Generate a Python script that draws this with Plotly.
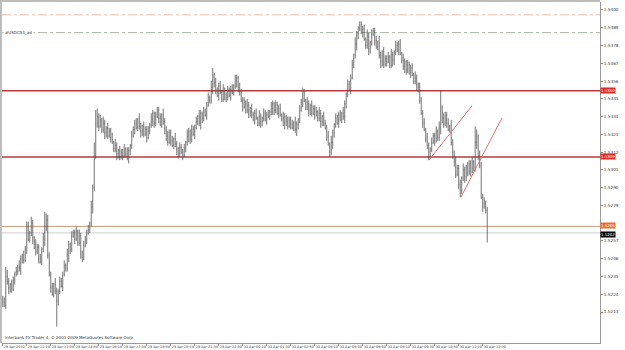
import plotly.graph_objects as go

opens = [1.5221,1.5219,1.5217,1.5235,1.5232,1.5228,1.5230,1.5227,1.5233,1.5236,
1.5238,1.5241,1.5240,1.5246,1.5248,1.5245,1.5252,1.5266,1.5258,1.5262,
1.5268,1.5259,1.5255,1.5250,1.5253,1.5246,1.5244,1.5252,1.5258,1.5266,
1.5270,1.5248,1.5236,1.5228,1.5224,1.5230,1.5226,1.5220,1.5226,1.5232,
1.5229,1.5236,1.5242,1.5240,1.5248,1.5255,1.5252,1.5260,1.5262,1.5258,
1.5263,1.5256,1.5260,1.5250,1.5247,1.5254,1.5258,1.5262,1.5264,1.5268,
1.5278,1.5290,1.5310,1.5330,1.5334,1.5328,1.5332,1.5326,1.5330,1.5324,
1.5327,1.5322,1.5325,1.5321,1.5318,1.5314,1.5316,1.5311,1.5313,1.5309,
1.5312,1.5310,1.5314,1.5311,1.5309,1.5313,1.5316,1.5322,1.5326,1.5330,
1.5327,1.5332,1.5328,1.5325,1.5328,1.5323,1.5326,1.5321,1.5325,1.5329,
1.5332,1.5336,1.5330,1.5334,1.5338,1.5333,1.5329,1.5335,1.5331,1.5327,
1.5322,1.5318,1.5324,1.5319,1.5316,1.5320,1.5317,1.5314,1.5311,1.5315,
1.5312,1.5310,1.5314,1.5318,1.5322,1.5325,1.5320,1.5326,1.5323,1.5327,
1.5331,1.5334,1.5330,1.5336,1.5333,1.5337,1.5335,1.5341,1.5346,1.5344,
1.5352,1.5360,1.5355,1.5350,1.5347,1.5353,1.5349,1.5345,1.5350,1.5348,
1.5346,1.5350,1.5347,1.5351,1.5349,1.5353,1.5356,1.5358,1.5352,1.5349,
1.5344,1.5340,1.5343,1.5338,1.5341,1.5337,1.5339,1.5335,1.5332,1.5336,
1.5333,1.5330,1.5334,1.5331,1.5333,1.5336,1.5332,1.5335,1.5334,1.5337,
1.5339,1.5342,1.5338,1.5341,1.5336,1.5339,1.5335,1.5333,1.5330,1.5334,
1.5331,1.5328,1.5332,1.5329,1.5327,1.5330,1.5326,1.5329,1.5332,1.5338,
1.5343,1.5348,1.5344,1.5340,1.5342,1.5338,1.5341,1.5336,1.5339,1.5335,
1.5337,1.5333,1.5336,1.5331,1.5334,1.5330,1.5327,1.5322,1.5317,1.5312,
1.5318,1.5324,1.5329,1.5333,1.5330,1.5335,1.5332,1.5336,1.5334,1.5342,
1.5348,1.5354,1.5351,1.5358,1.5366,1.5372,1.5379,1.5385,1.5389,1.5391,
1.5386,1.5388,1.5382,1.5378,1.5384,1.5376,1.5380,1.5385,1.5387,1.5381,
1.5377,1.5380,1.5372,1.5368,1.5374,1.5366,1.5370,1.5368,1.5371,1.5366,
1.5372,1.5369,1.5374,1.5378,1.5375,1.5379,1.5373,1.5369,1.5365,1.5368,
1.5363,1.5366,1.5361,1.5364,1.5360,1.5356,1.5358,1.5354,1.5352,1.5344,
1.5336,1.5330,1.5326,1.5320,1.5316,1.5309,1.5314,1.5318,1.5322,1.5319,
1.5325,1.5321,1.5327,1.5340,1.5333,1.5329,1.5335,1.5330,1.5326,1.5328,
1.5318,1.5312,1.5306,1.5298,1.5302,1.5292,1.5288,1.5296,1.5301,1.5297,
1.5303,1.5299,1.5305,1.5300,1.5306,1.5302,1.5318,1.5322,1.5310,1.5304,
1.5284,1.5278,1.5281,1.5276]

highs = [1.5223,1.5222,1.5241,1.5239,1.5234,1.5231,1.5233,1.5235,1.5238,1.5241,
1.5242,1.5245,1.5248,1.5249,1.5251,1.5254,1.5269,1.5269,1.5263,1.5272,
1.5270,1.5260,1.5258,1.5255,1.5255,1.5249,1.5253,1.5262,1.5275,1.5274,
1.5273,1.5250,1.5238,1.5231,1.5231,1.5234,1.5228,1.5227,1.5235,1.5234,
1.5238,1.5245,1.5243,1.5252,1.5257,1.5256,1.5263,1.5264,1.5264,1.5266,
1.5264,1.5264,1.5262,1.5251,1.5257,1.5260,1.5264,1.5267,1.5269,1.5282,
1.5292,1.5318,1.5338,1.5339,1.5336,1.5335,1.5333,1.5334,1.5332,1.5328,
1.5330,1.5327,1.5327,1.5324,1.5319,1.5320,1.5318,1.5314,1.5316,1.5314,
1.5314,1.5317,1.5315,1.5315,1.5315,1.5317,1.5325,1.5328,1.5332,1.5333,
1.5333,1.5336,1.5330,1.5329,1.5331,1.5328,1.5328,1.5328,1.5330,1.5336,
1.5338,1.5337,1.5337,1.5340,1.5340,1.5336,1.5336,1.5339,1.5333,1.5328,
1.5325,1.5326,1.5326,1.5322,1.5321,1.5324,1.5319,1.5315,1.5318,1.5317,
1.5314,1.5317,1.5319,1.5326,1.5327,1.5326,1.5329,1.5328,1.5329,1.5334,
1.5335,1.5338,1.5338,1.5337,1.5340,1.5339,1.5343,1.5349,1.5347,1.5356,
1.5364,1.5361,1.5358,1.5352,1.5355,1.5356,1.5350,1.5354,1.5352,1.5349,
1.5353,1.5352,1.5353,1.5354,1.5354,1.5360,1.5360,1.5359,1.5355,1.5351,
1.5346,1.5346,1.5344,1.5345,1.5343,1.5340,1.5342,1.5337,1.5338,1.5339,
1.5334,1.5338,1.5336,1.5334,1.5339,1.5338,1.5337,1.5338,1.5338,1.5343,
1.5344,1.5343,1.5344,1.5343,1.5341,1.5342,1.5336,1.5337,1.5336,1.5335,
1.5334,1.5334,1.5334,1.5332,1.5331,1.5334,1.5331,1.5333,1.5341,1.5345,
1.5352,1.5351,1.5345,1.5346,1.5344,1.5342,1.5344,1.5341,1.5341,1.5340,
1.5338,1.5340,1.5338,1.5335,1.5337,1.5332,1.5329,1.5325,1.5318,1.5322,
1.5326,1.5330,1.5336,1.5335,1.5337,1.5338,1.5337,1.5340,1.5344,1.5349,
1.5357,1.5356,1.5360,1.5369,1.5373,1.5383,1.5387,1.5390,1.5393,1.5393,
1.5390,1.5391,1.5383,1.5388,1.5386,1.5381,1.5388,1.5389,1.5389,1.5384,
1.5381,1.5384,1.5374,1.5375,1.5377,1.5372,1.5372,1.5374,1.5372,1.5376,
1.5374,1.5375,1.5381,1.5380,1.5381,1.5382,1.5374,1.5373,1.5370,1.5369,
1.5369,1.5368,1.5366,1.5367,1.5361,1.5362,1.5360,1.5355,1.5355,1.5346,
1.5338,1.5333,1.5327,1.5324,1.5318,1.5315,1.5321,1.5324,1.5324,1.5328,
1.5326,1.5331,1.5350,1.5341,1.5336,1.5337,1.5337,1.5333,1.5329,1.5332,
1.5320,1.5313,1.5309,1.5304,1.5304,1.5295,1.5297,1.5305,1.5303,1.5304,
1.5306,1.5307,1.5307,1.5309,1.5307,1.5328,1.5326,1.5323,1.5313,1.5306,
1.5286,1.5284,1.5282,1.5278]

lows = [1.5216,1.5216,1.5215,1.5230,1.5224,1.5225,1.5225,1.5226,1.5230,1.5235,
1.5236,1.5238,1.5236,1.5243,1.5243,1.5244,1.5249,1.5257,1.5256,1.5260,
1.5255,1.5252,1.5248,1.5249,1.5243,1.5243,1.5242,1.5250,1.5254,1.5263,
1.5246,1.5235,1.5225,1.5223,1.5222,1.5224,1.5204,1.5217,1.5224,1.5228,
1.5226,1.5235,1.5238,1.5238,1.5244,1.5249,1.5250,1.5259,1.5255,1.5257,
1.5254,1.5254,1.5246,1.5244,1.5245,1.5253,1.5255,1.5261,1.5262,1.5266,
1.5274,1.5288,1.5308,1.5327,1.5325,1.5327,1.5324,1.5324,1.5320,1.5321,
1.5320,1.5321,1.5318,1.5317,1.5312,1.5312,1.5307,1.5308,1.5307,1.5308,
1.5307,1.5309,1.5309,1.5307,1.5305,1.5310,1.5314,1.5321,1.5323,1.5326,
1.5325,1.5326,1.5321,1.5322,1.5321,1.5322,1.5318,1.5320,1.5323,1.5327,
1.5328,1.5327,1.5328,1.5333,1.5330,1.5328,1.5327,1.5329,1.5323,1.5319,
1.5316,1.5317,1.5316,1.5315,1.5314,1.5315,1.5310,1.5308,1.5309,1.5311,
1.5307,1.5309,1.5312,1.5316,1.5318,1.5317,1.5318,1.5322,1.5320,1.5326,
1.5329,1.5328,1.5326,1.5330,1.5331,1.5334,1.5332,1.5340,1.5342,1.5342,
1.5348,1.5352,1.5348,1.5346,1.5344,1.5348,1.5343,1.5343,1.5344,1.5343,
1.5344,1.5346,1.5344,1.5348,1.5347,1.5351,1.5352,1.5349,1.5347,1.5343,
1.5337,1.5339,1.5336,1.5336,1.5333,1.5334,1.5333,1.5331,1.5329,1.5332,
1.5328,1.5328,1.5327,1.5328,1.5331,1.5331,1.5329,1.5333,1.5332,1.5335,
1.5335,1.5335,1.5336,1.5335,1.5333,1.5334,1.5331,1.5328,1.5326,1.5328,
1.5326,1.5327,1.5326,1.5326,1.5325,1.5324,1.5322,1.5326,1.5330,1.5337,
1.5340,1.5343,1.5338,1.5338,1.5334,1.5335,1.5334,1.5335,1.5332,1.5334,
1.5331,1.5331,1.5327,1.5328,1.5328,1.5326,1.5319,1.5316,1.5309,1.5310,
1.5314,1.5321,1.5327,1.5329,1.5327,1.5331,1.5330,1.5332,1.5330,1.5339,
1.5346,1.5350,1.5348,1.5357,1.5364,1.5370,1.5375,1.5382,1.5387,1.5385,
1.5383,1.5381,1.5376,1.5376,1.5372,1.5373,1.5378,1.5384,1.5378,1.5376,
1.5375,1.5370,1.5364,1.5365,1.5364,1.5365,1.5365,1.5367,1.5364,1.5364,
1.5365,1.5366,1.5372,1.5374,1.5372,1.5372,1.5367,1.5363,1.5361,1.5360,
1.5361,1.5360,1.5358,1.5359,1.5354,1.5354,1.5350,1.5349,1.5342,1.5335,
1.5327,1.5325,1.5318,1.5314,1.5307,1.5308,1.5312,1.5317,1.5316,1.5318,
1.5319,1.5319,1.5323,1.5330,1.5327,1.5328,1.5327,1.5325,1.5324,1.5316,
1.5308,1.5303,1.5296,1.5297,1.5289,1.5284,1.5286,1.5294,1.5293,1.5294,
1.5297,1.5298,1.5297,1.5299,1.5300,1.5300,1.5314,1.5307,1.5302,1.5283,
1.5275,1.5277,1.5274,1.5256]

closes = [1.5219,1.5217,1.5235,1.5232,1.5228,1.5230,1.5227,1.5233,1.5236,1.5238,
1.5241,1.5240,1.5246,1.5248,1.5245,1.5252,1.5266,1.5258,1.5262,1.5268,
1.5259,1.5255,1.5250,1.5253,1.5246,1.5244,1.5252,1.5258,1.5266,1.5270,
1.5248,1.5236,1.5228,1.5224,1.5230,1.5226,1.5220,1.5226,1.5232,1.5229,
1.5236,1.5242,1.5240,1.5248,1.5255,1.5252,1.5260,1.5262,1.5258,1.5263,
1.5256,1.5260,1.5250,1.5247,1.5254,1.5258,1.5262,1.5264,1.5268,1.5278,
1.5290,1.5310,1.5330,1.5334,1.5328,1.5332,1.5326,1.5330,1.5324,1.5327,
1.5322,1.5325,1.5321,1.5318,1.5314,1.5316,1.5311,1.5313,1.5309,1.5312,
1.5310,1.5314,1.5311,1.5309,1.5313,1.5316,1.5322,1.5326,1.5330,1.5327,
1.5332,1.5328,1.5325,1.5328,1.5323,1.5326,1.5321,1.5325,1.5329,1.5332,
1.5336,1.5330,1.5334,1.5338,1.5333,1.5329,1.5335,1.5331,1.5327,1.5322,
1.5318,1.5324,1.5319,1.5316,1.5320,1.5317,1.5314,1.5311,1.5315,1.5312,
1.5310,1.5314,1.5318,1.5322,1.5325,1.5320,1.5326,1.5323,1.5327,1.5331,
1.5334,1.5330,1.5336,1.5333,1.5337,1.5335,1.5341,1.5346,1.5344,1.5352,
1.5360,1.5355,1.5350,1.5347,1.5353,1.5349,1.5345,1.5350,1.5348,1.5346,
1.5350,1.5347,1.5351,1.5349,1.5353,1.5356,1.5358,1.5352,1.5349,1.5344,
1.5340,1.5343,1.5338,1.5341,1.5337,1.5339,1.5335,1.5332,1.5336,1.5333,
1.5330,1.5334,1.5331,1.5333,1.5336,1.5332,1.5335,1.5334,1.5337,1.5339,
1.5342,1.5338,1.5341,1.5336,1.5339,1.5335,1.5333,1.5330,1.5334,1.5331,
1.5328,1.5332,1.5329,1.5327,1.5330,1.5326,1.5329,1.5332,1.5338,1.5343,
1.5348,1.5344,1.5340,1.5342,1.5338,1.5341,1.5336,1.5339,1.5335,1.5337,
1.5333,1.5336,1.5331,1.5334,1.5330,1.5327,1.5322,1.5317,1.5312,1.5318,
1.5324,1.5329,1.5333,1.5330,1.5335,1.5332,1.5336,1.5334,1.5342,1.5348,
1.5354,1.5351,1.5358,1.5366,1.5372,1.5379,1.5385,1.5389,1.5391,1.5386,
1.5388,1.5382,1.5378,1.5384,1.5376,1.5380,1.5385,1.5387,1.5381,1.5377,
1.5380,1.5372,1.5368,1.5374,1.5366,1.5370,1.5368,1.5371,1.5366,1.5372,
1.5369,1.5374,1.5378,1.5375,1.5379,1.5373,1.5369,1.5365,1.5368,1.5363,
1.5366,1.5361,1.5364,1.5360,1.5356,1.5358,1.5354,1.5352,1.5344,1.5336,
1.5330,1.5326,1.5320,1.5316,1.5309,1.5314,1.5318,1.5322,1.5319,1.5325,
1.5321,1.5327,1.5340,1.5333,1.5329,1.5335,1.5330,1.5326,1.5328,1.5318,
1.5312,1.5306,1.5298,1.5302,1.5292,1.5288,1.5296,1.5301,1.5297,1.5303,
1.5299,1.5305,1.5300,1.5306,1.5302,1.5318,1.5322,1.5310,1.5304,1.5284,
1.5278,1.5281,1.5276,1.5262]

time_tick_bars = [0, 16, 32, 48, 64, 80, 96, 112, 128, 144, 160, 176, 192, 208, 224, 240, 256, 272, 288, 304, 320]
time_tick_labels = ["29 Apr 2010", "29 Apr 12:10", "29 Apr 13:30", "29 Apr 14:50", "29 Apr 16:10",
                    "29 Apr 17:30", "29 Apr 18:50", "29 Apr 20:10", "29 Apr 21:30", "29 Apr 22:50",
                    "30 Apr 00:10", "30 Apr 01:30", "30 Apr 02:50", "30 Apr 04:10", "30 Apr 05:30",
                    "30 Apr 06:50", "30 Apr 08:10", "30 Apr 09:30", "30 Apr 10:50", "30 Apr 12:10",
                    "30 Apr 13:30"]
price_ticks = [1.5213, 1.5224, 1.5235, 1.5246, 1.5257, 1.5268, 1.5279, 1.5290, 1.5301,
               1.5312, 1.5323, 1.5334, 1.5345, 1.5356, 1.5367, 1.5378, 1.5389, 1.5400]
# tick labels hidden behind the price boxes in the original
price_tick_labels = ["1.5213", "1.5224", "1.5235", "1.5246", "1.5257", "", "1.5279", "1.5290", "1.5301",
                     "1.5312", "1.5323", "1.5334", "1.5345", "1.5356", "1.5367", "1.5378", "1.5389", "1.5400"]

resistance_levels = [1.5350, 1.5309]
lower_level = 1.5266
current_price = 1.5262
dashdot_levels = [1.5397, 1.5386]
dashdot_colors = ["#e8bfa8", "#a9b8a6"]
object_label = "#USDCS3_ad"

trend_bars = [[284.2, 312.8], [305.5, 332.8]]
trend_prices = [[1.53071, 1.53406], [1.52842, 1.53331]]

bars = list(range(len(closes)))

fig = go.Figure()
fig.add_trace(go.Ohlc(
    x=bars, open=opens, high=highs, low=lows, close=closes,
    increasing=dict(line=dict(color="#505050", width=0.8)),
    decreasing=dict(line=dict(color="#505050", width=0.8)),
    tickwidth=0.2, hoverinfo="skip", showlegend=False))

for tx, ty in zip(trend_bars, trend_prices):
    fig.add_trace(go.Scatter(x=tx, y=ty, mode="lines",
                             line=dict(color="#e07070", width=1), showlegend=False, hoverinfo="skip"))

shapes = []
for lv in resistance_levels:
    shapes.append(dict(type="line", xref="paper", x0=0, x1=1, yref="y", y0=lv, y1=lv,
                       line=dict(color="#b83a3a", width=1.6), layer="below"))
shapes.append(dict(type="line", xref="paper", x0=0, x1=1, yref="y", y0=lower_level, y1=lower_level,
                   line=dict(color="#d39a7a", width=1), layer="below"))
shapes.append(dict(type="line", xref="paper", x0=0, x1=1, yref="y", y0=current_price, y1=current_price,
                   line=dict(color="#cfcfcf", width=1), layer="below"))
for lv, col in zip(dashdot_levels, dashdot_colors):
    shapes.append(dict(type="line", xref="paper", x0=0, x1=1, yref="y", y0=lv, y1=lv,
                       line=dict(color=col, width=1, dash="dashdot"), layer="below"))
# frame borders (left and top)
shapes.append(dict(type="line", xref="paper", yref="paper", x0=-0.0017, x1=-0.0017, y0=0, y1=1.006,
                   line=dict(color="#bdbdbd", width=2)))
shapes.append(dict(type="line", xref="paper", yref="paper", x0=-0.0034, x1=1, y0=1.003, y1=1.003,
                   line=dict(color="#bdbdbd", width=2)))

annotations = []
box_specs = [(resistance_levels[0], "#e02a2a", "white", 0),
             (resistance_levels[1], "#e02a2a", "white", 0),
             (lower_level, "#ec6a2c", "white", 1),
             (current_price, "#000000", "white", -1.5)]
for lv, bg, fc, ys in box_specs:
    annotations.append(dict(xref="paper", x=1, xanchor="left", xshift=0, yref="y", y=lv, yshift=ys,
                            text=f"{lv:.4f}", showarrow=False, bgcolor=bg, borderpad=0,
                            font=dict(size=3.9, color=fc, family="DejaVu Sans")))
annotations.append(dict(xref="paper", x=0, xanchor="left", xshift=1, yref="y", y=dashdot_levels[1],
                        yanchor="middle", text=object_label, showarrow=False, bgcolor="white",
                        font=dict(size=4, color="#333333", family="DejaVu Sans")))
annotations.append(dict(xref="paper", x=0, xanchor="left", xshift=1, yref="paper", y=0, yanchor="bottom",
                        yshift=1, text="Interbank FX Trader 4, © 2001-2009 MetaQuotes Software Corp.",
                        showarrow=False, font=dict(size=4, color="#333333", family="DejaVu Sans")))

fig.update_layout(
    width=625, height=350,
    margin=dict(l=2, r=25, t=2, b=7),
    paper_bgcolor="white", plot_bgcolor="white",
    shapes=shapes, annotations=annotations,
    xaxis=dict(range=[-0.5, 398.2], rangeslider=dict(visible=False), showgrid=False, zeroline=False,
               automargin=False, tickangle=0,
               tickvals=time_tick_bars, ticktext=time_tick_labels, ticks="outside", ticklen=2,
               tickcolor="#888888", ticklabelposition="outside right",
               tickfont=dict(size=3.4, color="#333333", family="DejaVu Sans"),
               showline=True, linecolor="#9a9a9a", linewidth=1),
    yaxis=dict(range=[1.519381, 1.540495], side="right", showgrid=False, zeroline=False,
               automargin=False,
               tickvals=price_ticks, ticktext=price_tick_labels,
               ticks="outside", ticklen=2, tickcolor="#888888",
               tickfont=dict(size=4.2, color="#333333", family="DejaVu Sans"),
               showline=True, linecolor="#9a9a9a", linewidth=1),
)

fig.write_html("out.html")
